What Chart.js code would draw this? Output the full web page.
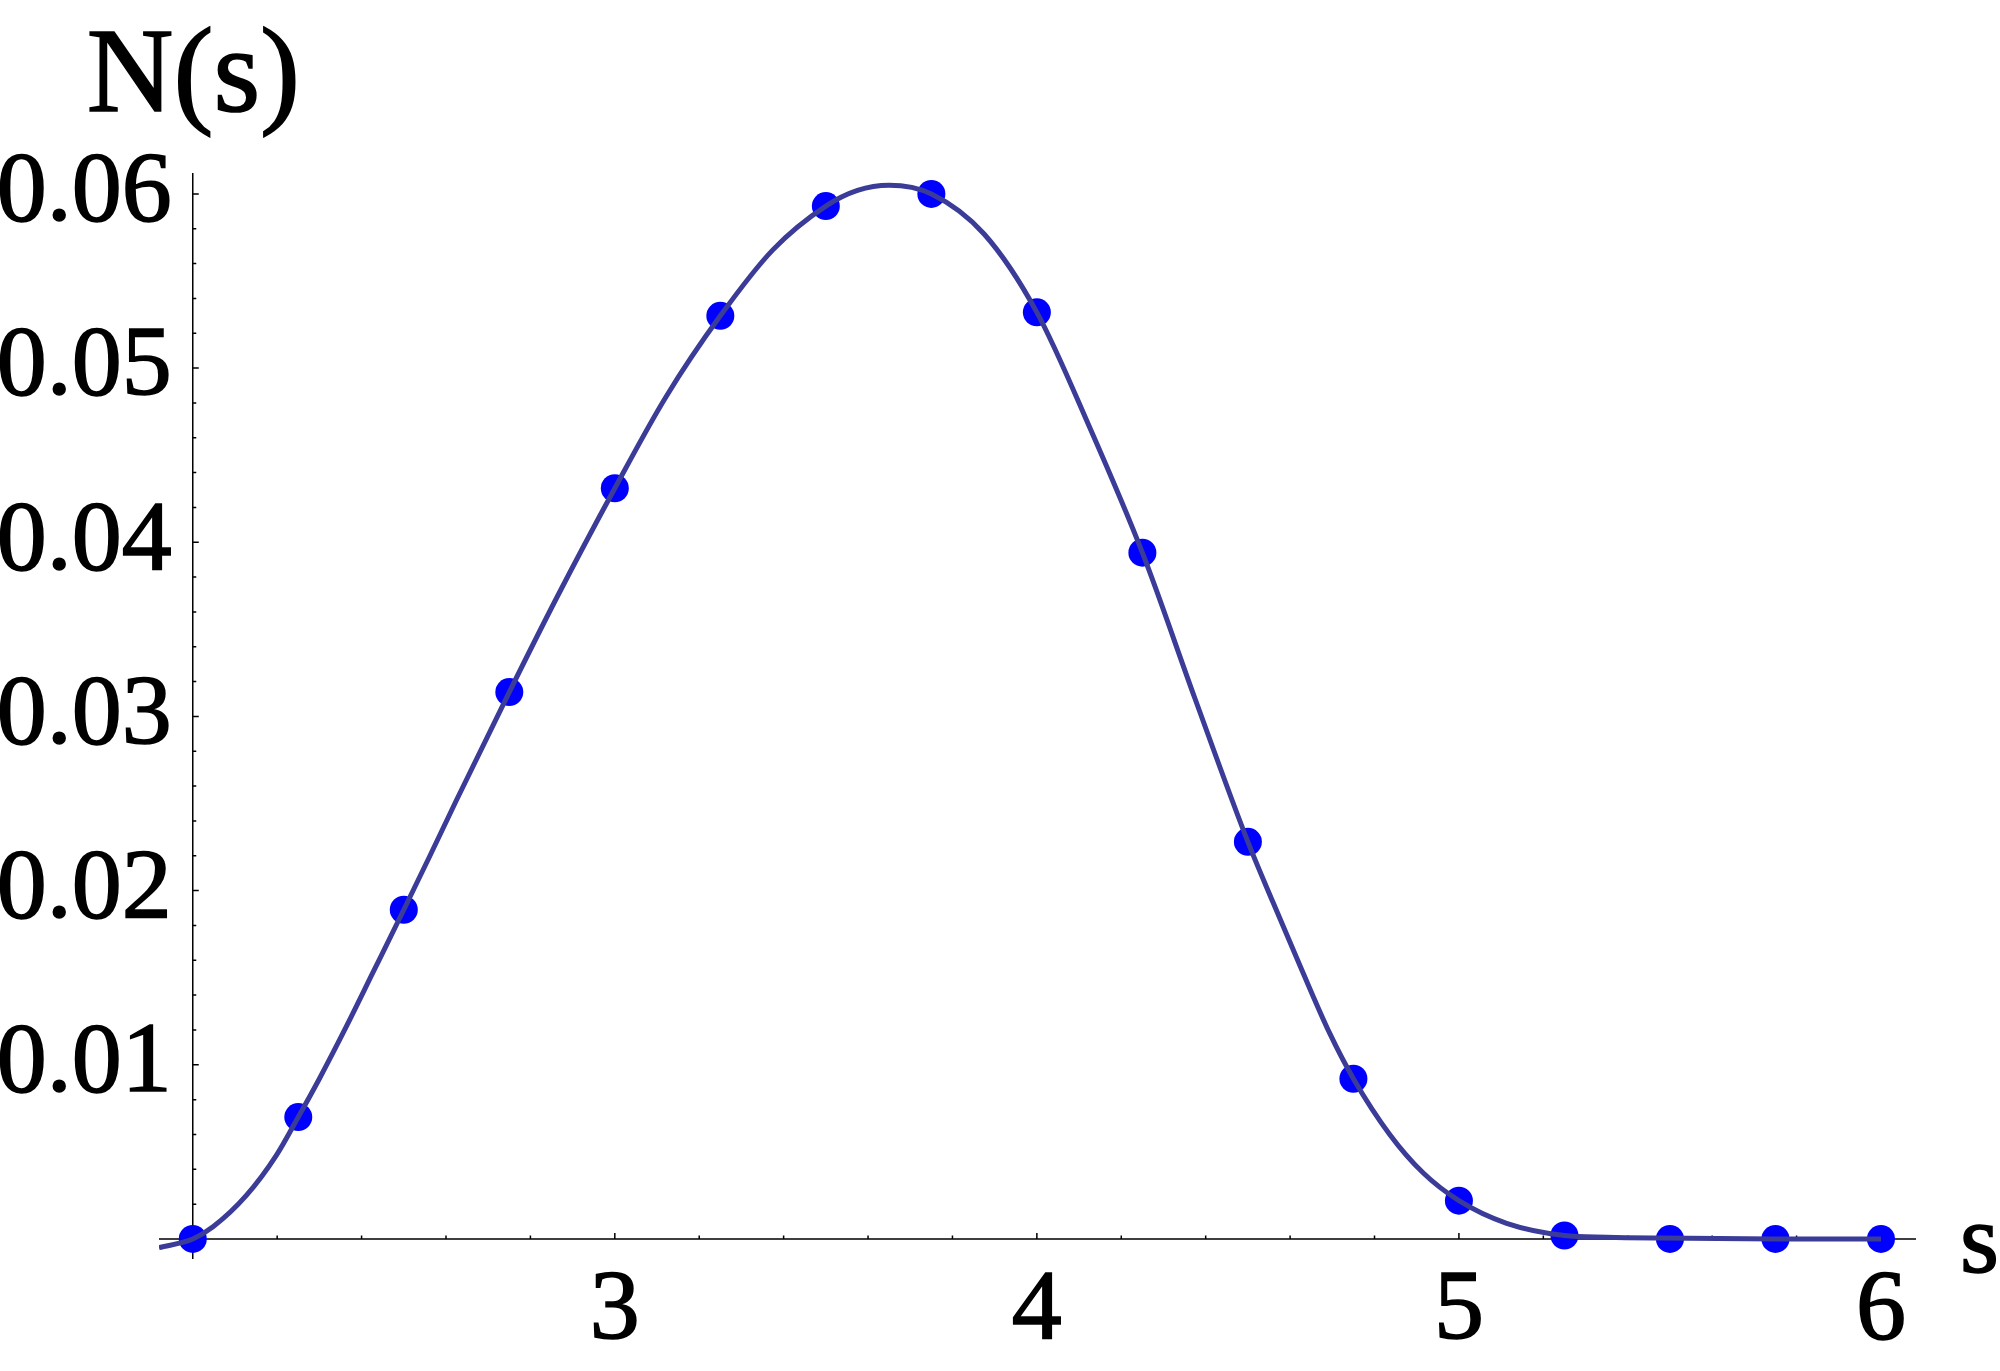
<!DOCTYPE html>
<html>
<head>
<meta charset="utf-8">
<title>N(s)</title>
<script src="https://cdn.jsdelivr.net/npm/chart.js@4.4.1/dist/chart.umd.min.js"></script>
<style>
  html, body { margin: 0; padding: 0; background: #fff; }
  #wrap { width: 2000px; height: 1371px; position: relative; }
</style>
</head>
<body>
<div id="wrap"><canvas id="ns-chart"></canvas></div>
<script>
// Sampled values (blue dots)
const pointS = [2, 2.25, 2.5, 2.75, 3, 3.25, 3.5, 3.75, 4, 4.25, 4.5, 4.75, 5, 5.25, 5.5, 5.75, 6];
const pointN = [0, 0.0070, 0.0189, 0.0314, 0.0431, 0.0530, 0.0593, 0.0600, 0.0532, 0.0394, 0.0228, 0.0092, 0.0022, 0.0002, 0, 0, 0];

// Smooth curve
const curveS = [1.92, 2.0, 2.048, 2.127, 2.198, 2.25, 2.3, 2.364, 2.427, 2.5, 2.562, 2.625, 2.75, 2.862, 3.0, 3.12, 3.25, 3.375, 3.5, 3.575, 3.65, 3.75, 3.875, 4.0, 4.125, 4.25, 4.375, 4.5, 4.56, 4.625, 4.694, 4.75, 4.836, 4.915, 5.0, 5.113, 5.25, 5.35, 5.476, 5.75, 6.0];
const curveN = [-0.0005, 0.0000, 0.0007, 0.0025, 0.0048, 0.0070, 0.0092, 0.0122, 0.0153, 0.0189, 0.0220, 0.0252, 0.0314, 0.0368, 0.0431, 0.0483, 0.0530, 0.0568, 0.0593, 0.0602, 0.0605, 0.0600, 0.0577, 0.0532, 0.0466, 0.0394, 0.0310, 0.0228, 0.0193, 0.0156, 0.0118, 0.0092, 0.0060, 0.0038, 0.0022, 0.0009, 0.0002, 0.0001, 0.00005, 0, 0];

// Axes
const xTicks = [3, 4, 5, 6];
const xTickLabels = ['3', '4', '5', '6'];
const yTicks = [0.01, 0.02, 0.03, 0.04, 0.05, 0.06];
const yTickLabels = ['0.01', '0.02', '0.03', '0.04', '0.05', '0.06'];
const xMinorStep = 0.2;
const yMinorStep = 0.002;
const xTitle = 's';
const yTitle = 'N(s)';

const FONT = '"Liberation Serif", "Times New Roman", serif';

// text drawn a little heavier, like the exported figure
function heavyText(ctx, text, x, y) {
    ctx.fillText(text, x, y);
    ctx.strokeText(text, x, y);
}

// Mathematica style axes crossing at (2, 0), ticks pointing inward
const crossAxes = {
    id: 'crossAxes',
    beforeDatasetsDraw(chart) {
        const {ctx, chartArea, scales: {x, y}} = chart;
        const x0 = x.getPixelForValue(2);
        const y0 = y.getPixelForValue(0);
        ctx.save();
        ctx.strokeStyle = '#000';
        ctx.lineWidth = 1.5;
        ctx.beginPath();
        ctx.moveTo(chartArea.left, y0);
        ctx.lineTo(chartArea.right, y0);
        ctx.moveTo(x0, chartArea.top);
        ctx.lineTo(x0, chartArea.bottom);
        for (let i = 1; 2 + i * xMinorStep <= x.max; i++) {
            const v = 2 + i * xMinorStep;
            const major = xTicks.some(t => Math.abs(t - v) < 1e-6);
            const px = x.getPixelForValue(v);
            ctx.moveTo(px, y0);
            ctx.lineTo(px, y0 - (major ? 6 : 3.5));
        }
        for (let i = 1; i * yMinorStep <= y.max; i++) {
            const v = i * yMinorStep;
            const major = yTicks.some(t => Math.abs(t - v) < 1e-9);
            const py = y.getPixelForValue(v);
            ctx.moveTo(x0, py);
            ctx.lineTo(x0 + (major ? 6 : 3.5), py);
        }
        ctx.stroke();
        ctx.restore();
    },
    afterDraw(chart) {
        const {ctx, scales: {x, y}} = chart;
        const x0 = x.getPixelForValue(2);
        const y0 = y.getPixelForValue(0);
        ctx.save();
        ctx.fillStyle = '#000';
        ctx.strokeStyle = '#000';
        ctx.lineWidth = 1.6;
        ctx.font = '100px ' + FONT;
        ctx.textAlign = 'right';
        ctx.textBaseline = 'middle';
        yTicks.forEach((v, i) => {
            heavyText(ctx, yTickLabels[i], x0 - 21, y.getPixelForValue(v));
        });
        ctx.textAlign = 'center';
        xTicks.forEach((v, i) => {
            heavyText(ctx, xTickLabels[i], x.getPixelForValue(v), y0 + 73);
        });
        ctx.textAlign = 'left';
        ctx.textBaseline = 'alphabetic';
        heavyText(ctx, xTitle, chart.chartArea.right + 44, y0 + 33);
        ctx.font = '120px ' + FONT;
        heavyText(ctx, yTitle, x0 - 106, 111);
        ctx.restore();
    }
};

function initChart() {
    const ctx = document.getElementById('ns-chart');
    new Chart(ctx, {
        type: 'scatter',
        data: {
            datasets: [{
                label: 'curve',
                data: curveS.map((s, i) => ({x: s, y: curveN[i]})),
                showLine: true,
                borderColor: '#3b3b98',
                borderWidth: 5,
                pointRadius: 0,
                cubicInterpolationMode: 'monotone',
                order: 0
            }, {
                label: 'points',
                data: pointS.map((s, i) => ({x: s, y: pointN[i]})),
                showLine: false,
                backgroundColor: '#0000ff',
                borderWidth: 0,
                pointRadius: 14,
                clip: false,
                order: 1
            }]
        },
        options: {
            responsive: true,
            maintainAspectRatio: false,
            animation: false,
            devicePixelRatio: 1,
            layout: {
                padding: {left: 159, right: 84, top: 173, bottom: 112}
            },
            plugins: {
                legend: {display: false},
                tooltip: {enabled: false}
            },
            scales: {
                x: {
                    type: 'linear',
                    min: 1.92,
                    max: 6.083,
                    display: false
                },
                y: {
                    type: 'linear',
                    min: -0.00115,
                    max: 0.0612,
                    display: false
                }
            }
        },
        plugins: [crossAxes]
    });
}

initChart();
</script>
</body>
</html>
